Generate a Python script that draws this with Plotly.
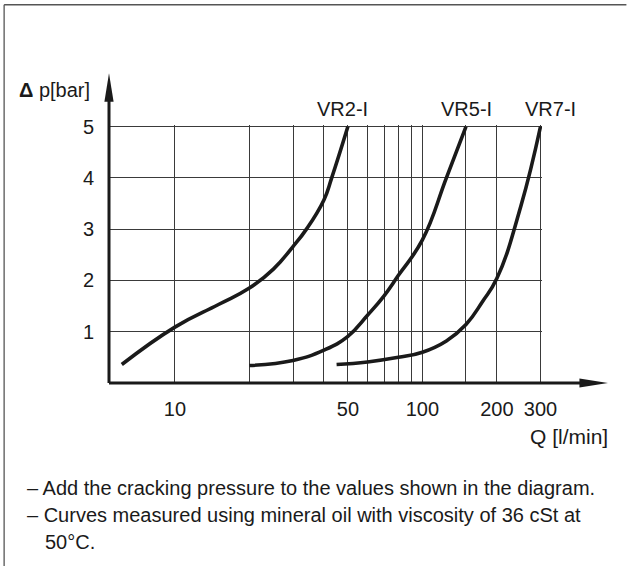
import math
import plotly.graph_objects as go

# ---------------- data ----------------
vr2_q = [6.1, 10, 15, 20, 25, 30, 34, 40, 43, 50]
vr2_p = [0.36, 1.09, 1.53, 1.85, 2.22, 2.66, 3.0, 3.57, 4.0, 5.0]

vr5_q = [20, 30, 40, 50, 60, 70, 80, 100, 125, 150]
vr5_p = [0.34, 0.44, 0.64, 0.91, 1.32, 1.70, 2.10, 2.79, 4.0, 5.0]

vr7_q = [45, 60, 80, 100, 125, 150, 175, 200, 250, 300]
vr7_p = [0.36, 0.41, 0.50, 0.60, 0.82, 1.14, 1.59, 2.04, 3.45, 5.0]

curve_names = ["VR2-I", "VR5-I", "VR7-I"]

x_tick_vals = [10, 50, 100, 200, 300]
x_tick_text = ["10", "50", "100", "200", "300"]
x_minor_vals = [20, 30, 40, 60, 70, 80, 90, 150]
y_tick_vals = [1, 2, 3, 4, 5]
y_tick_text = ["1", "2", "3", "4", "5"]

y_label = "<b>Δ</b> p[bar]"
x_label = "Q [l/min]"
notes = [
    "– Add the cracking pressure to the values shown in the diagram.",
    "– Curves measured using mineral oil with viscosity of 36 cSt at",
    "50°C.",
]

# ---------------- layout geometry (pixels) ----------------
W, H = 632, 566
L, R = 109, 542.5          # plot area left / right
B = 383.3                  # plot area bottom (Δp = 0)
Y_TOP = 5.03
PX_PER_BAR = 51.3
T = B - Y_TOP * PX_PER_BAR
X_RANGE = [0.7337, 2.4832]  # log10 range

INK = "#1a1a1a"
GRID = "#3a3a3a"
FONT = "Liberation Sans, Arial, Helvetica, sans-serif"


def pxx(p):
    return (p - L) / (R - L)


def pxy(p):
    return (B - p) / (B - T)


fig = go.Figure()

for q, p in [(vr2_q, vr2_p), (vr5_q, vr5_p), (vr7_q, vr7_p)]:
    fig.add_trace(go.Scatter(
        x=q, y=p, mode="lines",
        line=dict(color=INK, width=3.6, shape="spline", smoothing=1.3),
        hoverinfo="skip", showlegend=False,
    ))

shapes = []
# x axis with arrow
shapes.append(dict(type="line", xref="paper", yref="paper",
                   x0=0, x1=pxx(592), y0=0, y1=0,
                   line=dict(color=INK, width=3)))
shapes.append(dict(type="path", xref="paper", yref="paper",
                   path=f"M {pxx(580)},{pxy(B - 4.6)} L {pxx(608.5)},{pxy(B)} "
                        f"L {pxx(580)},{pxy(B + 4.6)} Z",
                   fillcolor=INK, line=dict(width=0)))
# y axis with arrow
shapes.append(dict(type="line", xref="paper", yref="paper",
                   x0=0, x1=0, y0=0, y1=pxy(96),
                   line=dict(color=INK, width=3)))
shapes.append(dict(type="path", xref="paper", yref="paper",
                   path=f"M {pxx(L - 4.6)},{pxy(102)} L {pxx(L)},{pxy(73.5)} "
                        f"L {pxx(L + 4.6)},{pxy(102)} Z",
                   fillcolor=INK, line=dict(width=0)))
# outer frame (left and top)
shapes.append(dict(type="line", xref="paper", yref="paper",
                   x0=pxx(4), x1=pxx(4), y0=pxy(5), y1=pxy(570),
                   line=dict(color="#555555", width=1.3)))
shapes.append(dict(type="line", xref="paper", yref="paper",
                   x0=pxx(4), x1=pxx(627), y0=pxy(5), y1=pxy(5),
                   line=dict(color="#555555", width=1.3)))

annotations = [
    dict(text=y_label, xref="paper", yref="paper", x=pxx(17), y=pxy(90),
         xanchor="left", yanchor="middle", showarrow=False,
         font=dict(size=20, color=INK, family=FONT)),
    dict(text=x_label, xref="paper", yref="paper", x=pxx(611), y=pxy(437),
         xanchor="right", yanchor="middle", showarrow=False,
         font=dict(size=21, color=INK, family=FONT)),
]
# curve labels above the curve ends (log axis -> annotation x in log10)
label_shift = [-5, 1, 10]
for name, q, p, dx in zip(curve_names, [vr2_q, vr5_q, vr7_q],
                          [vr2_p, vr5_p, vr7_p], label_shift):
    annotations.append(dict(text=name, xref="x", yref="y",
                            x=math.log10(q[-1]), y=p[-1],
                            xshift=dx, yshift=18,
                            xanchor="center", yanchor="middle", showarrow=False,
                            font=dict(size=20, color=INK, family=FONT)))

note_pos = [(25, 488), (25, 515), (43, 542)]
for txt, (nx, ny) in zip(notes, note_pos):
    annotations.append(dict(text=txt, xref="paper", yref="paper",
                            x=pxx(nx), y=pxy(ny), xanchor="left", yanchor="middle",
                            showarrow=False,
                            font=dict(size=20, color=INK, family=FONT)))

fig.update_layout(
    width=W, height=H,
    margin=dict(l=L, r=W - R, t=T, b=H - B, pad=0),
    paper_bgcolor="white", plot_bgcolor="white",
    showlegend=False, hovermode=False,
    font=dict(family=FONT, size=20, color=INK),
    shapes=shapes, annotations=annotations,
    xaxis=dict(
        type="log", range=X_RANGE,
        tickmode="array", tickvals=x_tick_vals, ticktext=x_tick_text,
        ticks="", showline=False, zeroline=False,
        showgrid=True, gridcolor=GRID, gridwidth=1,
        minor=dict(tickvals=x_minor_vals, showgrid=True, gridcolor=GRID,
                   gridwidth=1, ticks=""),
        tickfont=dict(size=20, color=INK, family=FONT),
        ticklabelstandoff=12,
    ),
    yaxis=dict(
        range=[0, Y_TOP],
        tickmode="array", tickvals=y_tick_vals, ticktext=y_tick_text,
        ticks="", showline=False, zeroline=False,
        showgrid=True, gridcolor=GRID, gridwidth=1,
        tickfont=dict(size=20, color=INK, family=FONT),
        ticklabelstandoff=14,
    ),
)

fig.write_html("out.html", config={"displayModeBar": False},
               post_script="document.body.style.margin='0px';")
